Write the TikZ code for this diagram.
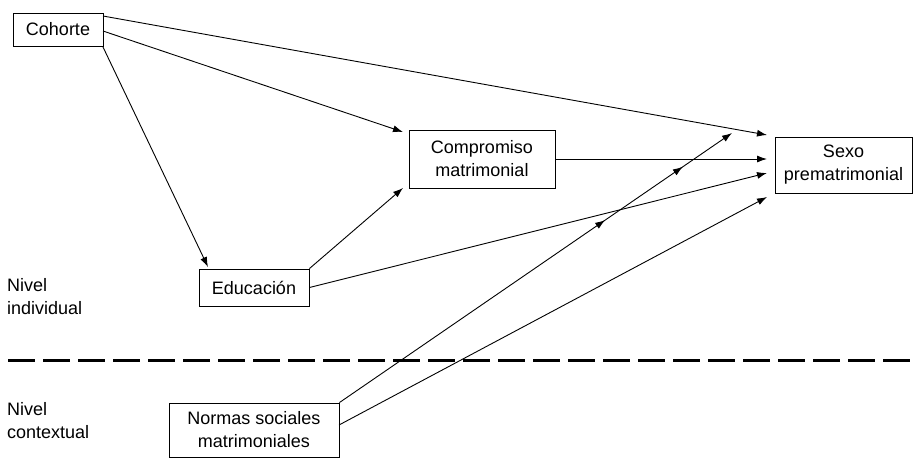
\documentclass[tikz,border=0pt]{standalone}
\usepackage{fontspec}
\setmainfont{Liberation Sans}
\usetikzlibrary{arrows.meta,decorations.markings}
\begin{document}
\begin{tikzpicture}[x=1pt,y=-1pt,
  box/.style={draw,line width=0.9pt,inner sep=0pt,align=center,font=\fontsize{18}{23}\selectfont},
  lbl/.style={inner sep=0pt,align=left,anchor=west,font=\fontsize{18}{23}\selectfont},
  arr/.style={line width=0.9pt,-{Latex[length=10pt,width=7pt]}},
  midarrows/.style={postaction={decorate},decoration={markings,
     mark=at position 0.677 with {\arrow{Latex[length=10pt,width=7pt]}},
     mark=at position 0.875 with {\arrow{Latex[length=10pt,width=7pt]}}}},
  dashline/.style={line width=3pt,dash pattern=on 27pt off 8pt}]
\useasboundingbox (0,0) rectangle (913,459);
\node[box,minimum width=90pt,minimum height=33pt] (coh) at (58,29.5) {Cohorte};
\node[box,minimum width=146pt,minimum height=58pt] (comp) at (482,159) {Compromiso\\matrimonial};
\node[box,minimum width=137pt,minimum height=56pt] (sexo) at (843.5,165) {Sexo\\prematrimonial};
\node[box,minimum width=110pt,minimum height=37pt] (educ) at (254,287.5) {Educación};
\node[box,minimum width=170pt,minimum height=54pt] (norm) at (254,430) {Normas sociales\\matrimoniales};
\node[lbl] (ni) at (7,296.5) {Nivel\\individual};
\node[lbl] (nc) at (7,420.5) {Nivel\\contextual};
% arrow targets
\coordinate (t1) at (767,135);
\coordinate (t2) at (403,132);
\coordinate (t3) at (208,267);
\coordinate (t4) at (403,188);
\coordinate (t5) at (767,173);
\coordinate (t6) at (767,159);
\coordinate (t7) at (732,133);
\coordinate (t8) at (767,197);
\coordinate (s1) at (103,16);
\coordinate (s2) at (103,31);
\coordinate (s3) at (103,47);
\coordinate (s4) at (339,425);
\coordinate (dl) at (8,360);
\coordinate (dr) at (913,360);
\draw[dashline] (dl) -- (dr);
\draw[arr] (s1) -- (t1);
\draw[arr] (s2) -- (t2);
\draw[arr] (s3) -- (t3);
\draw[arr] (educ.north east) -- (t4);
\draw[arr] (educ.east) -- (t5);
\draw[arr] (comp.east) -- (t6);
\draw[arr,midarrows] (norm.north east) -- (t7);
\draw[arr] (s4) -- (t8);
\end{tikzpicture}
\end{document}
